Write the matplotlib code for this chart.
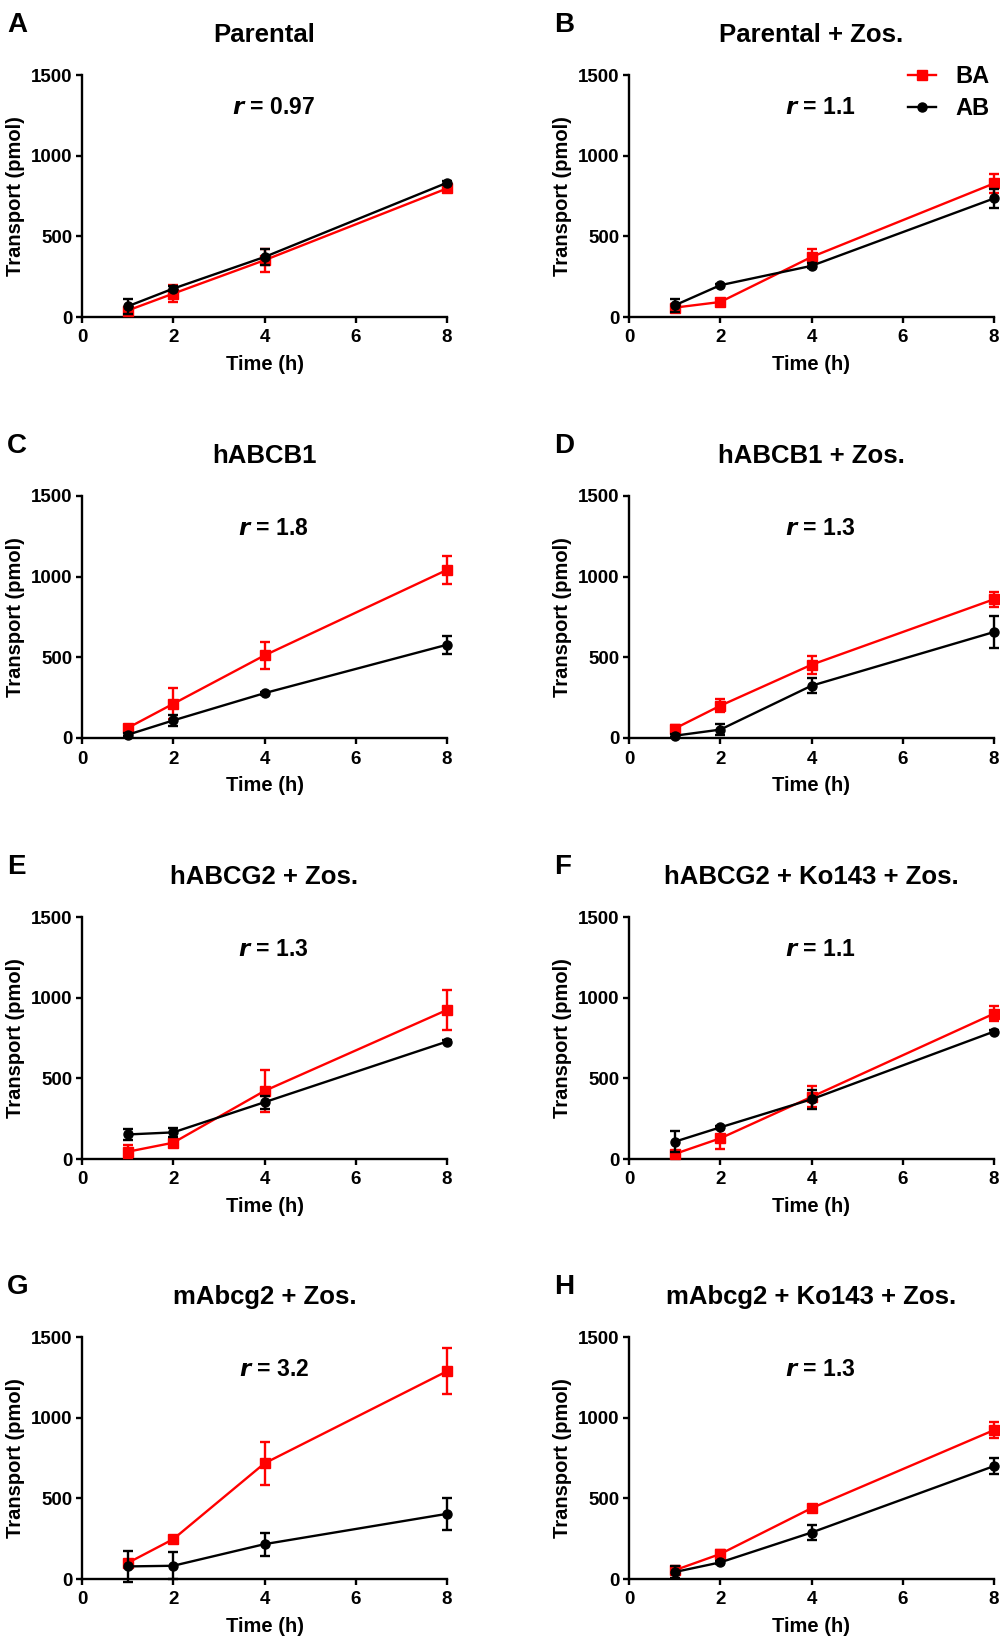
import numpy as np
import matplotlib
matplotlib.use('Agg')
from matplotlib import pyplot as plt
from matplotlib.lines import Line2D

plt.rcParams['font.family'] = ['Liberation Sans', 'DejaVu Sans']
plt.rcParams['font.weight'] = 'bold'

# ---DATA--- #
time_h = [1, 2, 4, 8]
letters = ['A', 'B', 'C', 'D', 'E', 'F', 'G', 'H']
titles = ['Parental', 'Parental + Zos.', 'hABCB1', 'hABCB1 + Zos.',
          'hABCG2 + Zos.', 'hABCG2 + Ko143 + Zos.',
          'mAbcg2 + Zos.', 'mAbcg2 + Ko143 + Zos.']
ratios = ['0.97', '1.1', '1.8', '1.3', '1.3', '1.1', '3.2', '1.3']

# BA (basolateral -> apical), mean and error per panel
ba_mean = [[40, 145, 352, 797],
           [58, 93, 372, 828],
           [62, 212, 512, 1042],
           [58, 200, 454, 860],
           [45, 101, 422, 924],
           [31, 128, 385, 901],
           [99, 247, 717, 1288],
           [54, 155, 439, 923]]
ba_err = [[20, 55, 70, 15],
          [20, 10, 50, 60],
          [15, 97, 82, 88],
          [20, 40, 55, 45],
          [40, 20, 130, 123],
          [10, 65, 65, 48],
          [20, 10, 135, 142],
          [20, 25, 10, 50]]
# AB (apical -> basolateral)
ab_mean = [[66, 176, 372, 832],
           [72, 197, 317, 735],
           [20, 109, 278, 578],
           [14, 52, 324, 657],
           [152, 165, 352, 728],
           [107, 196, 370, 790],
           [78, 82, 216, 404],
           [43, 103, 288, 700]]
ab_err = [[45, 15, 50, 10],
          [40, 10, 15, 60],
          [10, 35, 10, 57],
          [10, 35, 45, 98],
          [35, 30, 40, 10],
          [65, 10, 60, 10],
          [98, 84, 72, 99],
          [38, 10, 44, 50]]

# ---LAYOUT--- #
W, H = 1000, 1639
fig = plt.figure(figsize=(W / 100, H / 100), dpi=100)
lefts = [82, 629]
bottoms = [317, 738, 1159, 1579]
ax_w, ax_h = 365, 242

red = '#ff0000'
blk = '#000000'

for i in range(8):
    row, col = divmod(i, 2)
    l = lefts[col] / W
    b = 1 - bottoms[row] / H
    ax = fig.add_axes([l, b, ax_w / W, ax_h / H])

    ax.errorbar(time_h, ba_mean[i], yerr=ba_err[i], color=red, marker='s',
                ms=6.5, lw=1.7, elinewidth=1.7, capsize=3.5, capthick=1.7,
                clip_on=False, zorder=3)
    ax.errorbar(time_h, ab_mean[i], yerr=ab_err[i], color=blk, marker='o',
                ms=6.5, lw=1.7, elinewidth=1.7, capsize=3.5, capthick=1.7,
                clip_on=False, zorder=4)

    ax.set_xlim(0, 8)
    ax.set_ylim(0, 1500)
    ax.set_xticks([0, 2, 4, 6, 8])
    ax.set_yticks([0, 500, 1000, 1500])
    for s in ['top', 'right']:
        ax.spines[s].set_visible(False)
    for s in ['left', 'bottom']:
        ax.spines[s].set_linewidth(1.7)
    ax.tick_params(direction='out', length=4, width=1.7, labelsize=13.5, pad=3)
    ax.tick_params(axis='x', pad=5)
    for t in ax.get_xticklabels() + ax.get_yticklabels():
        t.set_fontweight('bold')

    ax.set_xlabel('Time (h)', fontsize=14.5, fontweight='bold', labelpad=6)
    ax.set_ylabel('Transport (pmol)', fontsize=14.5, fontweight='bold', labelpad=4)
    ax.set_title(titles[i], fontsize=18.5, fontweight='bold', pad=24)

    ax.text(4.2, 1300, r'$\mathbfit{r}$' + ' = ' + ratios[i], ha='center', va='center',
            fontsize=16.5, fontweight='bold')

    fig.text((lefts[col] - 75) / W, 1 - (bottoms[row] - ax_h - 43) / H, letters[i],
             fontsize=20, fontweight='bold', ha='left', va='baseline')

    if i == 1:
        handles = [Line2D([], [], color=red, marker='s', ms=6.5, lw=1.7),
                   Line2D([], [], color=blk, marker='o', ms=6.5, lw=1.7)]
        ax.legend(handles, ['BA', 'AB'], loc='upper right',
                  bbox_to_anchor=(1.02, 1.09), frameon=False,
                  handlelength=1.2, handletextpad=0.8, labelspacing=0.4,
                  borderpad=0, prop={'size': 17, 'weight': 'bold'})

fig.savefig('out.png', dpi=100)
